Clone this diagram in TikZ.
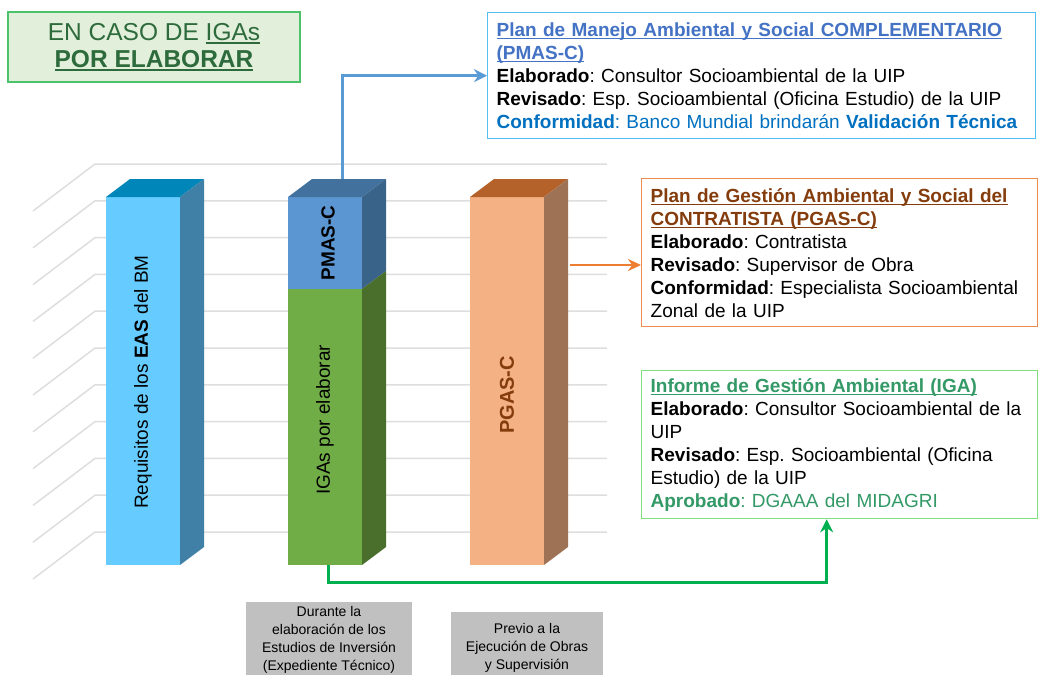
\documentclass[tikz,border=0pt]{standalone}
\usepackage{fontspec}
\setmainfont{Liberation Sans}
\frenchspacing
\newcommand\ulx[1]{\leavevmode\setbox0\hbox{#1}\rlap{\rule[-3pt]{\wd0}{1.2pt}}\box0}
\usetikzlibrary{arrows.meta}
\definecolor{gridcol}{HTML}{DEDEDE}
\definecolor{bAfront}{HTML}{66CCFF}
\definecolor{bAtop}{HTML}{0086B8}
\definecolor{bAside}{HTML}{4180A6}
\definecolor{pmfront}{HTML}{5B96D2}
\definecolor{pmtop}{HTML}{41719C}
\definecolor{pmside}{HTML}{3A6389}
\definecolor{igfront}{HTML}{70AD47}
\definecolor{igside}{HTML}{4A6E2C}
\definecolor{pgfront}{HTML}{F4B183}
\definecolor{pgtop}{HTML}{B5612A}
\definecolor{pgside}{HTML}{9E7355}
\definecolor{blueborder}{HTML}{55BFF2}
\definecolor{titleblue}{HTML}{4472C4}
\definecolor{confblue}{HTML}{0070C0}
\definecolor{orangeborder}{HTML}{F08C50}
\definecolor{titlebrown}{HTML}{843C0C}
\definecolor{greenborder}{HTML}{80E080}
\definecolor{igatext}{HTML}{339966}
\definecolor{arrblue}{HTML}{5B9BD5}
\definecolor{arrorange}{HTML}{ED7D31}
\definecolor{arrgreen}{HTML}{00B050}
\definecolor{graybox}{HTML}{C0C0C0}
\definecolor{enfill}{HTML}{E2EFDA}
\definecolor{enborder}{HTML}{4CC26A}
\definecolor{entext}{HTML}{2E6B3C}
\begin{document}
\begin{tikzpicture}[x=1pt,y=-1pt,
  gridline/.style={draw=gridcol,line width=1.5pt},
  barface/.style={inner sep=0pt,outer sep=0pt,minimum width=74pt},
  barlabel/.style={rotate=90,font=\fontsize{19}{23}\selectfont,inner sep=0pt},
  infobox/.style={line width=1.3pt,anchor=north west,align=left,inner xsep=9pt,inner ysep=0pt,font=\fontsize{19}{23}\selectfont},
  conn/.style={line width=3pt},
  grayblock/.style={fill=graybox,anchor=north west,inner sep=0pt},
  graytext/.style={anchor=north,align=center,inner sep=0pt,font=\fontsize{14}{18}\selectfont}
]
\useasboundingbox (0,0) rectangle (1038,675);
\fill[white] (0,0) rectangle (1038,675);
% grid
\foreach \i in {0,...,10}{
  \pgfmathsetmacro\yy{164+36.8*\i}
  \draw[gridline] (33,{\yy+47}) -- (95,\yy) -- (607,\yy);
}
% bar 1
\node[barface,fill=bAfront,minimum height=368pt] (bar1) at (143,381) {};
\fill[bAtop] (bar1.north west) -- ++(24,-18) -- ++(74,0) -- (bar1.north east) -- cycle;
\fill[bAside] (bar1.north east) -- ++(24,-18) -- ([shift={(24,-18)}]bar1.south east) -- (bar1.south east) -- cycle;
\node[barlabel] (lab1) at (143,382) {Requisitos de los \textbf{EAS} del BM};
% bar 2
\node[barface,fill=pmfront,minimum height=92pt] (bar2top) at (325,243) {};
\node[barface,fill=igfront,minimum height=276pt] (bar2low) at (325,427) {};
\fill[pmtop] (bar2top.north west) -- ++(24,-18) -- ++(74,0) -- (bar2top.north east) -- cycle;
\fill[pmside] (bar2top.north east) -- ++(24,-18) -- ([shift={(24,-18)}]bar2top.south east) -- (bar2top.south east) -- cycle;
\fill[igside] (bar2low.north east) -- ++(24,-18) -- ([shift={(24,-18)}]bar2low.south east) -- (bar2low.south east) -- cycle;
\node[barlabel] (lab2a) at (328,243) {\textbf{PMAS-C}};
\node[barlabel] (lab2b) at (325,420) {IGAs por elaborar};
% bar 3
\node[barface,fill=pgfront,minimum height=368pt] (bar3) at (507,381) {};
\fill[pgtop] (bar3.north west) -- ++(24,-18) -- ++(74,0) -- (bar3.north east) -- cycle;
\fill[pgside] (bar3.north east) -- ++(24,-18) -- ([shift={(24,-18)}]bar3.south east) -- (bar3.south east) -- cycle;
\node[barlabel,text=titlebrown,font=\fontsize{20}{24}\selectfont\bfseries] (lab3) at (507,395) {PGAS-C};
% title box
\node[fill=enfill,draw=enborder,line width=1.3pt,minimum width=292pt,minimum height=70pt,align=center,text=entext,font=\fontsize{24.5}{27}\selectfont,inner sep=0pt] (enbox) at (154,47)
  {EN CASO DE \ulx{IGAs}\\ \ulx{\textbf{POR ELABORAR}}};
% info boxes
\node[infobox,draw=blueborder,minimum width=548pt,minimum height=126pt,text width=530pt] (pmasbox) at (487,12)
  {{\color{titleblue}\ulx{\textbf{Plan de Manejo Ambiental y Social COMPLEMENTARIO}}}\\
   {\color{titleblue}\ulx{\textbf{(PMAS-C)}}}\\
   \textbf{Elaborado}: Consultor Socioambiental de la UIP\\
   \textbf{Revisado}: Esp. Socioambiental (Oficina Estudio) de la UIP\\
   {\color{confblue}\textbf{Conformidad}: Banco Mundial brindarán \textbf{Validación Técnica}}};
\node[infobox,draw=orangeborder,minimum width=396pt,minimum height=148pt,text width=378pt] (pgasbox) at (641,178)
  {{\color{titlebrown}\ulx{\textbf{Plan de Gestión Ambiental y Social del}}}\\
   {\color{titlebrown}\ulx{\textbf{CONTRATISTA (PGAS-C)}}}\\
   \textbf{Elaborado}: Contratista\\
   \textbf{Revisado}: Supervisor de Obra\\
   \textbf{Conformidad}: Especialista Socioambiental\\
   Zonal de la UIP};
\node[infobox,draw=greenborder,minimum width=396pt,minimum height=148pt,text width=378pt] (igabox) at (641,370)
  {{\color{igatext}\ulx{\textbf{Informe de Gestión Ambiental (IGA)}}}\\
   \textbf{Elaborado}: Consultor Socioambiental de la\\
   UIP\\
   \textbf{Revisado}: Esp. Socioambiental (Oficina\\
   Estudio) de la UIP\\
   {\color{igatext}\textbf{Aprobado}: DGAAA del MIDAGRI}};
% connectors
\coordinate (pstart) at (342,179);
\draw[conn,draw=arrblue,-{Stealth[length=13pt,width=13pt]}] (pstart) |- (pmasbox.west);
\coordinate (ostart) at (570,265);
\draw[line width=2.5pt,draw=arrorange,-{Stealth[length=13pt,width=12pt]}] (ostart) -- (ostart -| pgasbox.west);
\draw[conn,draw=arrgreen,-{Stealth[length=13pt,width=13pt]}] ([xshift=3pt]bar2low.south) -- ++(0,17) -| ([xshift=-13pt]igabox.south);
% gray boxes
\node[grayblock,minimum width=166pt,minimum height=73pt] (g1) at (246,602) {};
\node[graytext] (g1t) at (329,606) {Durante la\\elaboración de los\\Estudios de Inversión\\(Expediente Técnico)};
\node[grayblock,minimum width=152pt,minimum height=63pt] (g2) at (451,612) {};
\node[graytext] (g2t) at (527,623) {Previo a la\\Ejecución de Obras\\y Supervisión};
\end{tikzpicture}
\end{document}
